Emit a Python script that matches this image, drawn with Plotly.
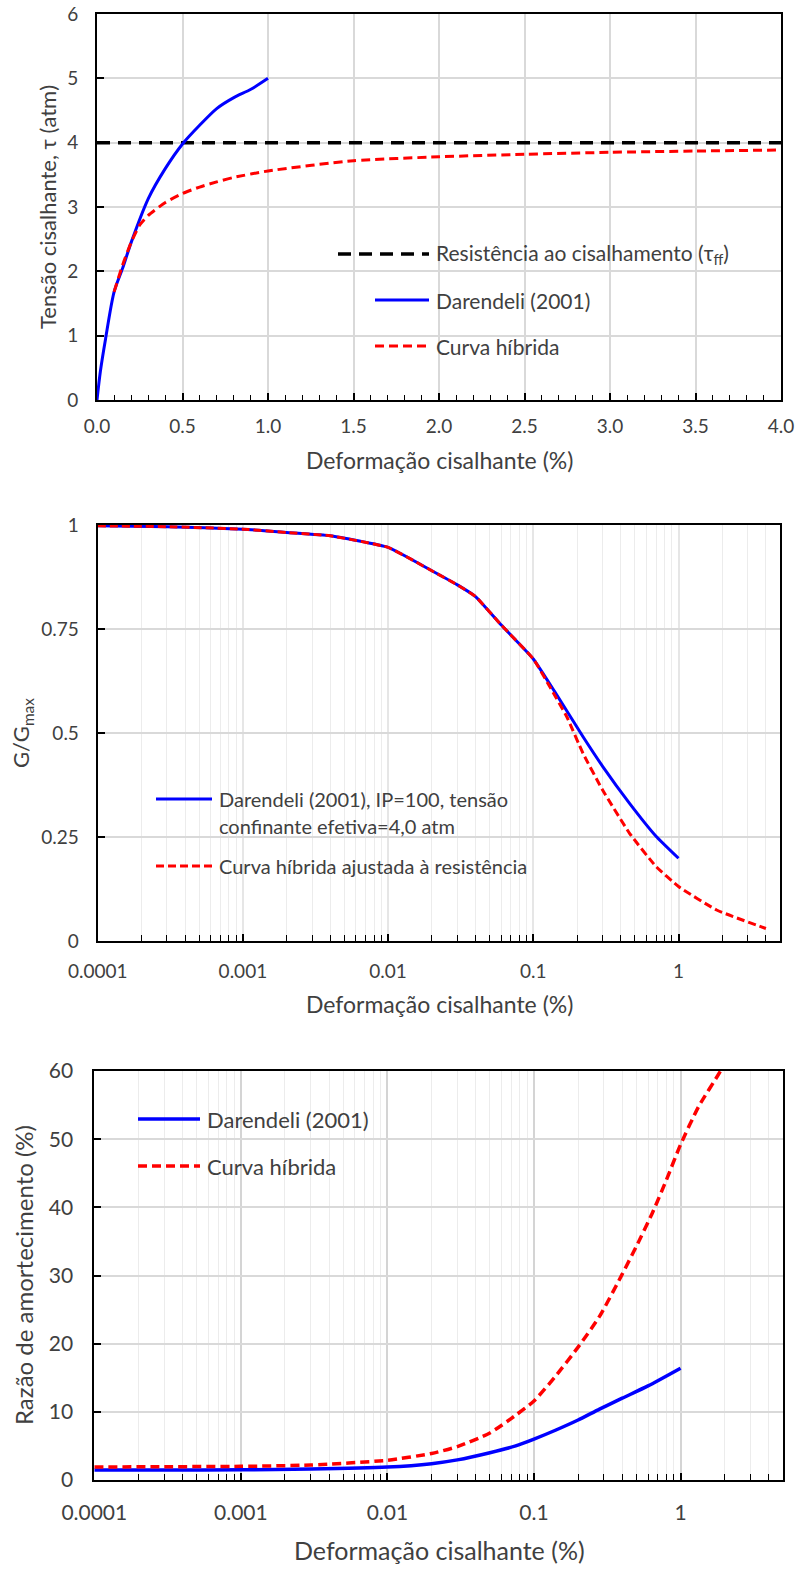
import math
import plotly.graph_objects as go

# ---------------- data: shear stress vs strain (linear) ----------------
strain_dar_lin = [0, 0.02, 0.05, 0.1, 0.15, 0.2, 0.3, 0.4, 0.5, 0.6, 0.7, 0.8, 0.9, 1.0]
tau_dar = [0, 0.45, 0.95, 1.68, 2.05, 2.45, 3.13, 3.6, 3.98, 4.27, 4.53, 4.7, 4.83, 5.0]
strain_hyb_lin = [0.1, 0.15, 0.2, 0.25, 0.3, 0.4, 0.5, 0.6, 0.7, 0.8, 1.0, 1.5, 2.0, 2.5, 3.0, 3.5, 4.0]
tau_hyb = [1.68, 2.1, 2.45, 2.72, 2.87, 3.07, 3.21, 3.31, 3.39, 3.46, 3.56, 3.72, 3.78, 3.82, 3.85, 3.87, 3.885]
tau_ff_strain = [0, 4.0]
tau_ff = [4.0, 4.0]

# ---------------- data: G/Gmax vs strain (log) ----------------
strain_g_dar = [0.0001, 0.0003, 0.001, 0.002, 0.004, 0.01, 0.02, 0.03, 0.04, 0.06, 0.1,
                0.14, 0.22, 0.3, 0.46, 0.7, 1.0]
g_dar = [0.998, 0.996, 0.990, 0.982, 0.974, 0.946, 0.89, 0.856, 0.828, 0.760, 0.678,
         0.600, 0.491, 0.420, 0.331, 0.252, 0.199]
strain_g_hyb = [0.0001, 0.0003, 0.001, 0.002, 0.004, 0.01, 0.02, 0.03, 0.04, 0.06, 0.1,
                0.13, 0.17, 0.22, 0.3, 0.46, 0.7, 1.0, 1.83, 4.0]
g_hyb = [0.998, 0.996, 0.990, 0.982, 0.974, 0.946, 0.89, 0.856, 0.828, 0.760, 0.678,
         0.611, 0.539, 0.451, 0.363, 0.259, 0.179, 0.131, 0.0745, 0.030]

# ---------------- data: damping vs strain (log) ----------------
strain_d_dar = [0.0001, 0.0003, 0.001, 0.003, 0.01, 0.02, 0.03, 0.05, 0.075, 0.1, 0.14,
                0.2, 0.28, 0.4, 0.6, 1.0]
d_dar = [1.45, 1.46, 1.5, 1.6, 1.9, 2.4, 2.95, 4.0, 5.0, 6.0, 7.3, 8.8, 10.4, 12.0, 13.8, 16.4]
strain_d_hyb = [0.0001, 0.0003, 0.001, 0.003, 0.01, 0.02, 0.03, 0.05, 0.075, 0.1, 0.14,
                0.2, 0.28, 0.4, 0.5, 0.64, 0.8, 1.0, 1.33, 1.87, 2.0]
d_hyb = [1.9, 1.95, 2.0, 2.2, 2.9, 3.9, 4.9, 6.9, 9.5, 11.6, 15.2, 19.5, 24.0, 30.2, 34.3,
         39.1, 44.0, 49.2, 54.8, 60.0, 61.5]

# tick labels
top_x_ticks = [0, 0.5, 1.0, 1.5, 2.0, 2.5, 3.0, 3.5, 4.0]
log_tickvals = [0.0001, 0.001, 0.01, 0.1, 1]
log_ticktext = ["0.0001", "0.001", "0.01", "0.1", "1"]
g_tickvals = [0, 0.25, 0.5, 0.75, 1]
g_ticktext = ["0", "0.25", "0.5", "0.75", "1"]

W, H = 798, 1580
FONT = "Lato"
TXT = "#404040"
BLUE = "#0000FF"
RED = "#FF0000"

def px_x(p):
    return p / W

def px_y(p):
    return 1 - p / H

log_minor = [k * 10 ** e for e in range(-4, 0) for k in range(2, 10)] + [2, 3, 4]

fig = go.Figure()

fig.add_trace(go.Scatter(x=tau_ff_strain, y=tau_ff, mode="lines", xaxis="x", yaxis="y",
                         line=dict(color="black", width=3.5, dash="13px,8px"), showlegend=False))
fig.add_trace(go.Scatter(x=strain_dar_lin, y=tau_dar, mode="lines", xaxis="x", yaxis="y",
                         line=dict(color=BLUE, width=3, shape="spline", smoothing=0.8), showlegend=False))
fig.add_trace(go.Scatter(x=strain_hyb_lin, y=tau_hyb, mode="lines", xaxis="x", yaxis="y",
                         line=dict(color=RED, width=3, dash="9px,5px", shape="spline", smoothing=0.6),
                         showlegend=False))

fig.add_trace(go.Scatter(x=strain_g_dar, y=g_dar, mode="lines", xaxis="x2", yaxis="y2",
                         line=dict(color=BLUE, width=3, shape="spline", smoothing=0.4), showlegend=False))
fig.add_trace(go.Scatter(x=strain_g_hyb, y=g_hyb, mode="lines", xaxis="x2", yaxis="y2",
                         line=dict(color=RED, width=3, dash="8px,4px", shape="spline", smoothing=0.4),
                         showlegend=False))

fig.add_trace(go.Scatter(x=strain_d_dar, y=d_dar, mode="lines", xaxis="x3", yaxis="y3",
                         line=dict(color=BLUE, width=3.5, shape="spline", smoothing=0.6), showlegend=False))
fig.add_trace(go.Scatter(x=strain_d_hyb, y=d_hyb, mode="lines", xaxis="x3", yaxis="y3",
                         line=dict(color=RED, width=3.5, dash="9px,5px", shape="spline", smoothing=0.6),
                         showlegend=False))

def tickfont(size):
    return dict(family=FONT, size=size, color=TXT)

axis_common = dict(showline=True, linecolor="black", linewidth=2, mirror=True,
                   ticks="inside", tickcolor="black", ticklen=7, tickwidth=1.5,
                   tickfont=tickfont(19), zeroline=False,
                   showgrid=True, gridcolor="#d9d9d9", gridwidth=1.5, automargin=False)

log_minor_cfg = dict(tickvals=log_minor, ticks="inside", ticklen=6, tickcolor="black",
                     tickwidth=1.2, showgrid=True, gridcolor="#ececec", gridwidth=1.2)

fig.update_layout(
    width=W, height=H, margin=dict(l=0, r=0, t=0, b=0, autoexpand=False),
    paper_bgcolor="white", plot_bgcolor="white",
    font=dict(family=FONT, color=TXT),
    xaxis=dict(axis_common, domain=[px_x(97), px_x(781)], anchor="y", range=[0, 4],
               tickvals=top_x_ticks, tickformat=".1f", ticklabelstandoff=8,
               minor=dict(dtick=0.1, ticks="inside", ticklen=5, tickcolor="black",
                          tickwidth=1.2, showgrid=False)),
    yaxis=dict(axis_common, domain=[px_y(400), px_y(14)], anchor="x", range=[0, 6], dtick=1,
               ticklabelstandoff=13),
    xaxis2=dict(axis_common, domain=[px_x(97.7), px_x(780)], anchor="y2", type="log",
                range=[-4, math.log10(5)], tickvals=log_tickvals, ticktext=log_ticktext,
                gridcolor="#e6e6e6", minor=log_minor_cfg, ticklabelstandoff=12),
    yaxis2=dict(axis_common, domain=[px_y(941), px_y(525)], anchor="x2", range=[0, 1],
                tickvals=g_tickvals, ticktext=g_ticktext, ticklabelstandoff=13),
    xaxis3=dict(axis_common, domain=[px_x(94.3), px_x(783)], anchor="y3", type="log",
                range=[-4, math.log10(5)], tickvals=log_tickvals, ticktext=log_ticktext,
                gridcolor="#d4d4d4", tickfont=tickfont(21), minor=log_minor_cfg,
                ticklabelstandoff=13),
    yaxis3=dict(axis_common, domain=[px_y(1480), px_y(1071)], anchor="x3", range=[0, 60],
                dtick=10, tickfont=tickfont(21), ticklabelstandoff=15),
)

annotations = []
shapes = []

def title(text, x, y, size, angle=0):
    annotations.append(dict(text=text, x=px_x(x), y=px_y(y), xref="paper", yref="paper",
                            showarrow=False, textangle=angle, xanchor="center", yanchor="middle",
                            font=dict(family=FONT, size=size, color=TXT)))

title("Deformação cisalhante (%)", 439, 460, 23)
title("Tensão cisalhante, τ (atm)", 47, 207, 22, -90)
title("Deformação cisalhante (%)", 439, 1004, 23)
title("G/G<sub>max</sub>", 22, 733, 22, -90)
title("Deformação cisalhante (%)", 439, 1550, 25)
title("Razão de amortecimento (%)", 23, 1275, 24, -90)

def legend_item(x0, x1, y, color, dash, width, text, size, xr, yr, dom_x, dom_y):
    fx0 = (x0 - dom_x[0]) / (dom_x[1] - dom_x[0])
    fx1 = (x1 - dom_x[0]) / (dom_x[1] - dom_x[0])
    fy = (dom_y[1] - y) / (dom_y[1] - dom_y[0])
    shapes.append(dict(type="line", xref=xr + " domain", yref=yr + " domain",
                       x0=fx0, x1=fx1, y0=fy, y1=fy,
                       line=dict(color=color, width=width, dash=dash)))
    annotations.append(dict(text=text, xref=xr + " domain", yref=yr + " domain",
                            x=fx1 + 5 / (dom_x[1] - dom_x[0]), y=fy, showarrow=False,
                            xanchor="left", yanchor="middle", align="left",
                            font=dict(family=FONT, size=size, color=TXT)))

top_dx, top_dy = (97, 781), (14, 400)
legend_item(338, 429, 254, "black", "13px,8px", 3.5, "Resistência ao cisalhamento (τ<sub>ff</sub>)", 21, "x", "y", top_dx, top_dy)
legend_item(375, 429, 300, BLUE, "solid", 3, "Darendeli (2001)", 21, "x", "y", top_dx, top_dy)
legend_item(375, 429, 346, RED, "9px,5px", 3, "Curva híbrida", 21, "x", "y", top_dx, top_dy)

mid_dx, mid_dy = (97.7, 780), (525, 941)
legend_item(156, 212, 799, BLUE, "solid", 3, "Darendeli (2001), IP=100, tensão", 20, "x2", "y2", mid_dx, mid_dy)
annotations.append(dict(text="confinante efetiva=4,0 atm", xref="x2 domain", yref="y2 domain",
                        x=(217 - mid_dx[0]) / (mid_dx[1] - mid_dx[0]),
                        y=(mid_dy[1] - 826) / (mid_dy[1] - mid_dy[0]), showarrow=False,
                        xanchor="left", yanchor="middle", font=dict(family=FONT, size=20, color=TXT)))
legend_item(156, 212, 866, RED, "8px,4px", 3, "Curva híbrida ajustada à resistência", 20, "x2", "y2", mid_dx, mid_dy)

bot_dx, bot_dy = (94.3, 783), (1071, 1480)
legend_item(138, 200, 1119, BLUE, "solid", 3.5, "Darendeli (2001)", 22, "x3", "y3", bot_dx, bot_dy)
legend_item(138, 200, 1166, RED, "9px,5px", 3.5, "Curva híbrida", 22, "x3", "y3", bot_dx, bot_dy)

fig.update_layout(annotations=annotations, shapes=shapes)

fig.write_html("out.html")
